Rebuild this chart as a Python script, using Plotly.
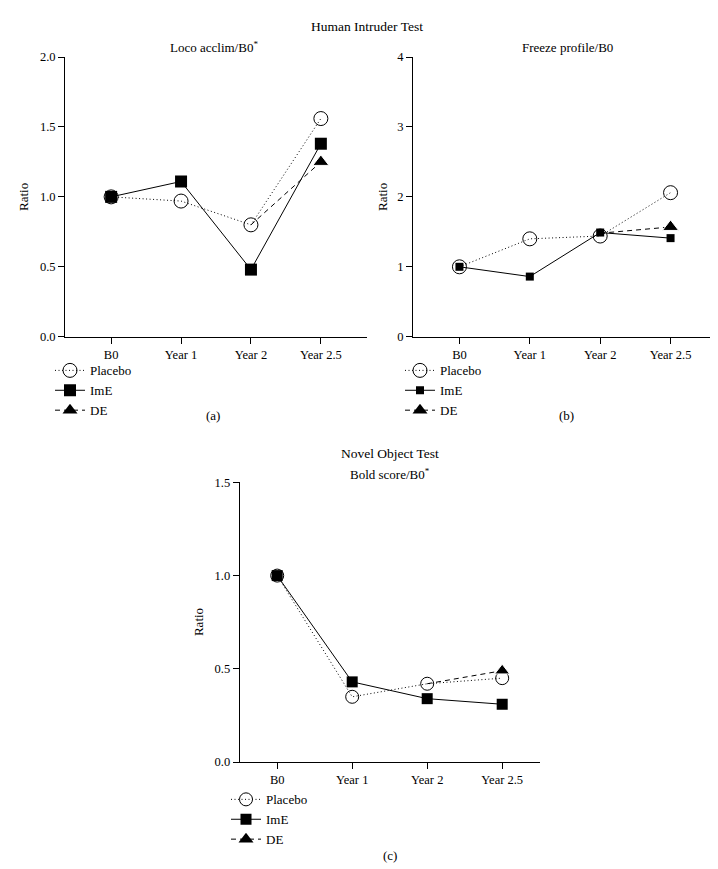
import plotly.graph_objects as go

categories = ["B0", "Year 1", "Year 2", "Year 2.5"]

# Panel (a) Loco acclim/B0
a_placebo = [1.0, 0.97, 0.80, 1.56]
a_ime = [1.0, 1.11, 0.48, 1.38]
a_de = [None, None, 0.80, 1.25]

# Panel (b) Freeze profile/B0
b_placebo = [1.0, 1.40, 1.44, 2.06]
b_ime = [1.0, 0.86, 1.49, 1.41]
b_de = [None, None, 1.48, 1.57]

# Panel (c) Bold score/B0
c_placebo = [1.0, 0.35, 0.42, 0.45]
c_ime = [1.0, 0.43, 0.34, 0.31]
c_de = [None, None, 0.42, 0.49]

series_names = ["Placebo", "ImE", "DE"]

FONT = "Liberation Serif"
W, H = 718, 869

DOT = "1px,2.5px"
DASH = "5px,4px"

fig = go.Figure()


def add_panel(vals, xa, ya, legend, sizes):
    p, i, d = vals
    sp, si, sd = sizes
    fig.add_trace(go.Scatter(
        x=categories, y=p, name=series_names[0], mode="lines+markers",
        xaxis=xa, yaxis=ya, legend=legend, cliponaxis=False,
        line=dict(color="black", width=1, dash=DOT),
        marker=dict(symbol="circle-open", size=sp, color="black", line=dict(width=1)),
    ))
    fig.add_trace(go.Scatter(
        x=categories, y=i, name=series_names[1], mode="lines+markers",
        xaxis=xa, yaxis=ya, legend=legend, cliponaxis=False,
        line=dict(color="black", width=1, dash="solid"),
        marker=dict(symbol="square", size=si, color="black"),
    ))
    # DE data: marker shown at the last time point only
    fig.add_trace(go.Scatter(
        x=categories, y=d, name=series_names[2], mode="lines+markers", showlegend=False,
        xaxis=xa, yaxis=ya, cliponaxis=False,
        line=dict(color="black", width=1, dash=DASH),
        marker=dict(symbol="triangle-up", size=[0] * (len(d) - 1) + [sd],
                    color="black", opacity=1),
    ))
    # legend entry for DE
    fig.add_trace(go.Scatter(
        x=[None], y=[None], name=series_names[2], mode="lines+markers",
        xaxis=xa, yaxis=ya, legend=legend,
        line=dict(color="black", width=1, dash=DASH),
        marker=dict(symbol="triangle-up", size=13, color="black"),
    ))


add_panel([a_placebo, a_ime, a_de], "x", "y", "legend", [14, 12, 14])
add_panel([b_placebo, b_ime, b_de], "x2", "y2", "legend2", [14, 8, 14])
add_panel([c_placebo, c_ime, c_de], "x3", "y3", "legend3", [13, 11, 13])


def px_x(p):
    return p / W


def px_y(p):
    return 1 - p / H


axis_common = dict(showline=True, linecolor="black", linewidth=1, ticks="outside",
                   ticklen=6, tickcolor="black", showgrid=False, zeroline=False,
                   tickfont=dict(family=FONT, size=12.5, color="black"))

xcat = dict(type="category", categoryorder="array", categoryarray=categories)

layout = dict(
    width=W, height=H, margin=dict(l=0, r=0, t=0, b=0),
    paper_bgcolor="white", plot_bgcolor="white",
    font=dict(family=FONT, size=12, color="black"),
    xaxis=dict(domain=[px_x(57), px_x(359)], range=[-0.66, 3.66], anchor="y", **xcat, **axis_common),
    yaxis=dict(domain=[px_y(327), px_y(42.7)], range=[0, 2], tickvals=[0, 0.5, 1, 1.5, 2],
               tickformat=".1f", anchor="x", **axis_common),
    xaxis2=dict(domain=[px_x(405), px_x(709)], range=[-0.66, 3.66], anchor="y2", **xcat, **axis_common),
    yaxis2=dict(domain=[px_y(327), px_y(42.7)], range=[0, 4], tickvals=[0, 1, 2, 3, 4],
                anchor="x2", **axis_common),
    xaxis3=dict(domain=[px_x(231.7), px_x(531.7)], range=[-0.5, 3.5], anchor="y3", **xcat, **axis_common),
    yaxis3=dict(domain=[px_y(759.3), px_y(475)], range=[0, 1.5], tickvals=[0, 0.5, 1, 1.5],
                tickformat=".1f", anchor="x3", **axis_common),
    showlegend=True,
)

leg_common = dict(xanchor="left", yanchor="top", bgcolor="rgba(0,0,0,0)",
                  font=dict(family=FONT, size=13, color="black"), tracegroupgap=0,
                  itemwidth=30)
layout["legend"] = dict(x=px_x(42), y=px_y(346), **leg_common)
layout["legend2"] = dict(x=px_x(392), y=px_y(346), **leg_common)
layout["legend3"] = dict(x=px_x(218), y=px_y(782), **leg_common)

fig.update_layout(**layout)

annots = [
    ("Human Intruder Test", 359, 12, 0, 13.5),
    ("Loco acclim/B0<sup>*</sup>", 206, 33, 0, 13),
    ("Freeze profile/B0", 559, 33, 0, 13),
    ("Novel Object Test", 382, 446, 0, 13.5),
    ("Bold score/B0<sup>*</sup>", 382, 467, 0, 13),
    ("(a)", 205, 407, 0, 13),
    ("(b)", 558, 407, 0, 13),
    ("(c)", 382, 854, 0, 13),
    ("Ratio", 15, 185, -90, 13),
    ("Ratio", 374, 185, -90, 13),
    ("Ratio", 190, 617, -90, 13),
]
for text, x, y, ang, fs in annots:
    fig.add_annotation(text=text, x=px_x(x), y=px_y(y), xref="paper", yref="paper",
                       showarrow=False, xanchor="center", yanchor="middle", textangle=ang,
                       font=dict(family=FONT, size=fs, color="black"))

fig.write_html("out.html")
